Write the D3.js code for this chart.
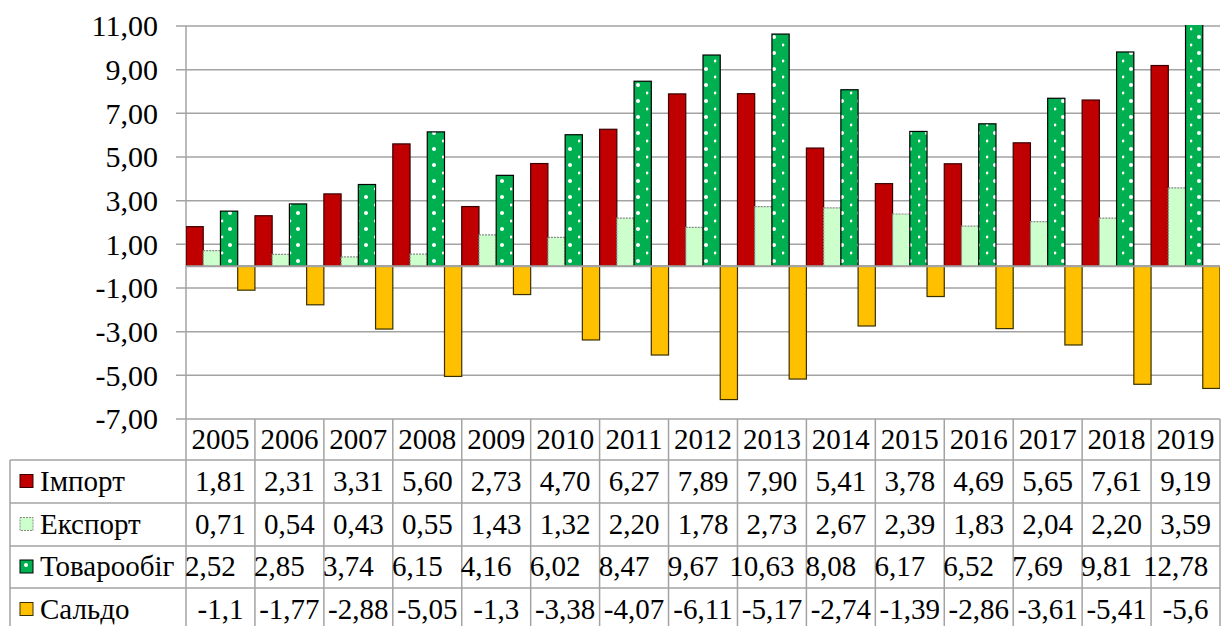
<!DOCTYPE html>
<html>
<head>
<meta charset="utf-8">
<script src="https://cdn.jsdelivr.net/npm/d3@7"></script>
</head>
<body style="margin:0;background:#fff">
<svg id="viz"></svg>
<script>
const years = ["2005","2006","2007","2008","2009","2010","2011","2012","2013","2014","2015","2016","2017","2018","2019"];
const seriesNames = ["Імпорт", "Експорт", "Товарообіг", "Сальдо"];
const importVals = [1.81, 2.31, 3.31, 5.60, 2.73, 4.70, 6.27, 7.89, 7.90, 5.41, 3.78, 4.69, 5.65, 7.61, 9.19];
const exportVals = [0.71, 0.54, 0.43, 0.55, 1.43, 1.32, 2.20, 1.78, 2.73, 2.67, 2.39, 1.83, 2.04, 2.20, 3.59];
const turnoverVals = [2.52, 2.85, 3.74, 6.15, 4.16, 6.02, 8.47, 9.67, 10.63, 8.08, 6.17, 6.52, 7.69, 9.81, 12.78];
const balanceVals = [-1.1, -1.77, -2.88, -5.05, -1.3, -3.38, -4.07, -6.11, -5.17, -2.74, -1.39, -2.86, -3.61, -5.41, -5.6];
const yTicks = [-7, -5, -3, -1, 1, 3, 5, 7, 9, 11];

const app = {
    init() {
        // comma decimals, plain hyphen minus like the original
        const fmt2 = d3.formatLocale({ decimal: ",", thousands: " ", grouping: [3], currency: ["", ""], minus: "-" }).format(".2f");
        const series = [
            { name: seriesNames[0], values: importVals, fill: "#C00000", stroke: "#3a0000", dash: null, fmt: fmt2 },
            { name: seriesNames[1], values: exportVals, fill: "#CCFFCC", stroke: "#8a8a8a", dash: "2,1", fmt: fmt2 },
            { name: seriesNames[2], values: turnoverVals, fill: "url(#dots)", stroke: "#000", dash: null, fmt: fmt2 },
            { name: seriesNames[3], values: balanceVals, fill: "#FFC000", stroke: "#3a3000", dash: null, fmt: d => String(d).replace(".", ",") }
        ];
        this.createGraph(series, fmt2);
    },

    createGraph(series, fmt2) {
        const width = 1227;
        const height = 626;
        const left = 186, right = 1220, top = 26, bottom = 419;
        const rowTops = [419, 460, 503, 546, 588, 631];
        const grid = "#a3a3a3";
        const fontSize = 29;
        const serif = "Liberation Serif";

        const svg = d3.select("#viz").attr("width", width).attr("height", height).style("display", "block");

        const defs = svg.append("defs");
        const pat = defs.append("pattern").attr("id", "dots").attr("patternUnits", "userSpaceOnUse")
            .attr("width", 17).attr("height", 16);
        pat.append("rect").attr("width", 17).attr("height", 16).attr("fill", "#00B050");
        pat.append("circle").attr("cx", 9).attr("cy", 5).attr("r", 2).attr("fill", "#fff");
        pat.append("circle").attr("cx", 1).attr("cy", 13).attr("r", 1.4).attr("fill", "#fff");
        defs.append("clipPath").attr("id", "plotclip").append("rect")
            .attr("x", left).attr("y", top - 1).attr("width", right - left).attr("height", bottom - top + 1);

        const x = d3.scaleBand().domain(years).range([left, right]).padding(0);
        const xs = d3.scaleBand().domain(seriesNames).range([0, x.bandwidth()]).padding(0);
        const y = d3.scaleLinear().domain([-7, 11]).range([bottom, top]);

        // gridlines + y labels
        const yAxis = svg.append("g");
        yAxis.selectAll("line").data(yTicks).enter().append("line")
            .attr("x1", left - 10).attr("x2", right).attr("y1", d => y(d)).attr("y2", d => y(d))
            .attr("stroke", grid).attr("stroke-width", 1.5);
        yAxis.selectAll("text").data(yTicks).enter().append("text")
            .attr("x", 158).attr("y", d => y(d)).attr("dy", "0.34em").attr("text-anchor", "end")
            .attr("font-family", serif).attr("font-size", 30).text(d => fmt2(d));
        svg.append("line").attr("x1", left).attr("x2", left).attr("y1", top).attr("y2", bottom)
            .attr("stroke", grid).attr("stroke-width", 1.5);

        // bars
        const bars = svg.append("g").attr("clip-path", "url(#plotclip)");
        series.forEach(s => {
            bars.selectAll(null).data(s.values).enter().append("rect")
                .attr("x", (d, i) => x(years[i]) + xs(s.name))
                .attr("width", xs.bandwidth())
                .attr("y", d => y(Math.max(0, d)))
                .attr("height", d => Math.abs(y(d) - y(0)))
                .attr("fill", s.fill).attr("stroke", s.stroke).attr("stroke-width", 1.2)
                .attr("stroke-dasharray", s.dash);
        });

        // zero axis line
        svg.append("line").attr("x1", left).attr("x2", right).attr("y1", y(0)).attr("y2", y(0))
            .attr("stroke", grid).attr("stroke-width", 2);

        // data table
        const table = svg.append("g");
        const tl = (x1, y1, x2, y2) => table.append("line").attr("x1", x1).attr("y1", y1).attr("x2", x2).attr("y2", y2)
            .attr("stroke", grid).attr("stroke-width", 1.5);
        rowTops.slice(1, 5).forEach(r => tl(10, r, right, r));
        tl(10, rowTops[1], 10, rowTops[5]);
        years.forEach(yr => tl(x(yr), bottom, x(yr), rowTops[5]));
        tl(right, bottom, right, rowTops[5]);

        table.selectAll(".yr").data(years).enter().append("text")
            .attr("x", d => x(d) + x.bandwidth() / 2).attr("y", (rowTops[0] + rowTops[1]) / 2 + 9)
            .attr("text-anchor", "middle").attr("font-family", serif).attr("font-size", fontSize).text(d => d);

        series.forEach((s, si) => {
            const cy = (rowTops[si + 1] + rowTops[si + 2]) / 2;
            const shift = si === 2 ? -10 : 0;
            table.append("rect").attr("x", 20).attr("y", cy - 7).attr("width", 13).attr("height", 13)
                .attr("fill", s.fill).attr("stroke", s.stroke).attr("stroke-width", 1).attr("stroke-dasharray", s.dash);
            table.append("text").attr("x", 40).attr("y", cy + 9)
                .attr("font-family", serif).attr("font-size", fontSize).text(s.name);
            table.selectAll(null).data(s.values).enter().append("text")
                .attr("x", (d, i) => x(years[i]) + x.bandwidth() / 2 + shift).attr("y", cy + 9)
                .attr("text-anchor", "middle").attr("font-family", serif).attr("font-size", fontSize)
                .text(d => s.fmt(d));
        });
    }
}

window.addEventListener("DOMContentLoaded", () => app.init())
</script>
</body>
</html>
